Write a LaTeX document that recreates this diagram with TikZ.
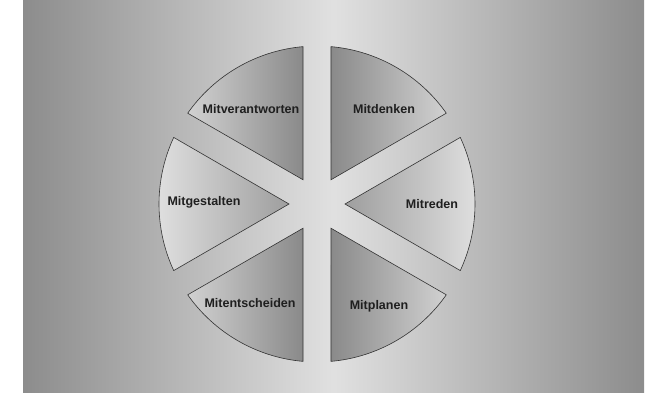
\documentclass[tikz,border=0pt]{standalone}
\usepackage{fontspec}
\setmainfont{Liberation Sans}
\begin{document}
\begin{tikzpicture}[x=1pt,y=1pt]
\definecolor{bgedge}{gray}{0.55}
\definecolor{bgmid}{gray}{0.88}
\definecolor{secdark}{gray}{0.54}
\definecolor{seclight}{gray}{0.82}
\definecolor{sidedark}{gray}{0.62}
\definecolor{sidelight}{gray}{0.88}
\definecolor{outline}{gray}{0.2}
\definecolor{labeltext}{gray}{0.12}
\tikzset{
  sector/.style={draw=outline, line width=0.6pt},
  lbl/.style={font=\fontsize{12.5}{14}\selectfont\bfseries, text=labeltext, inner sep=0pt}
}
\useasboundingbox (0,0) rectangle (662,392);
\shade[left color=bgedge, right color=bgedge, middle color=bgmid] (23,0) rectangle (644,392);
\begin{scope}[shift={(317,188)}]
  % Mitdenken
  \path[sector, left color=secdark, right color=seclight]
    (60:28) -- (35.08:158) arc[start angle=35.08, end angle=84.92, radius=158] -- cycle;
  % Mitverantworten
  \path[sector, left color=seclight, right color=secdark]
    (120:28) -- (95.08:158) arc[start angle=95.08, end angle=144.92, radius=158] -- cycle;
  % Mitgestalten
  \path[sector, left color=sidelight, right color=sidedark]
    (180:28) -- (155.08:158) arc[start angle=155.08, end angle=204.92, radius=158] -- cycle;
  % Mitentscheiden
  \path[sector, left color=seclight, right color=secdark]
    (240:28) -- (215.08:158) arc[start angle=215.08, end angle=264.92, radius=158] -- cycle;
  % Mitplanen
  \path[sector, left color=secdark, right color=seclight]
    (300:28) -- (275.08:158) arc[start angle=275.08, end angle=324.92, radius=158] -- cycle;
  % Mitreden
  \path[sector, left color=sidedark, right color=sidelight]
    (0:28) -- (-24.92:158) arc[start angle=-24.92, end angle=24.92, radius=158] -- cycle;
\end{scope}
\node[lbl] (verantworten) at (251,283) {Mitverantworten};
\node[lbl] (denken) at (384,283) {Mitdenken};
\node[lbl] (gestalten) at (204,190) {Mitgestalten};
\node[lbl] (reden) at (432,188) {Mitreden};
\node[lbl] (entscheiden) at (250,89) {Mitentscheiden};
\node[lbl] (planen) at (379,86) {Mitplanen};
\end{tikzpicture}
\end{document}
